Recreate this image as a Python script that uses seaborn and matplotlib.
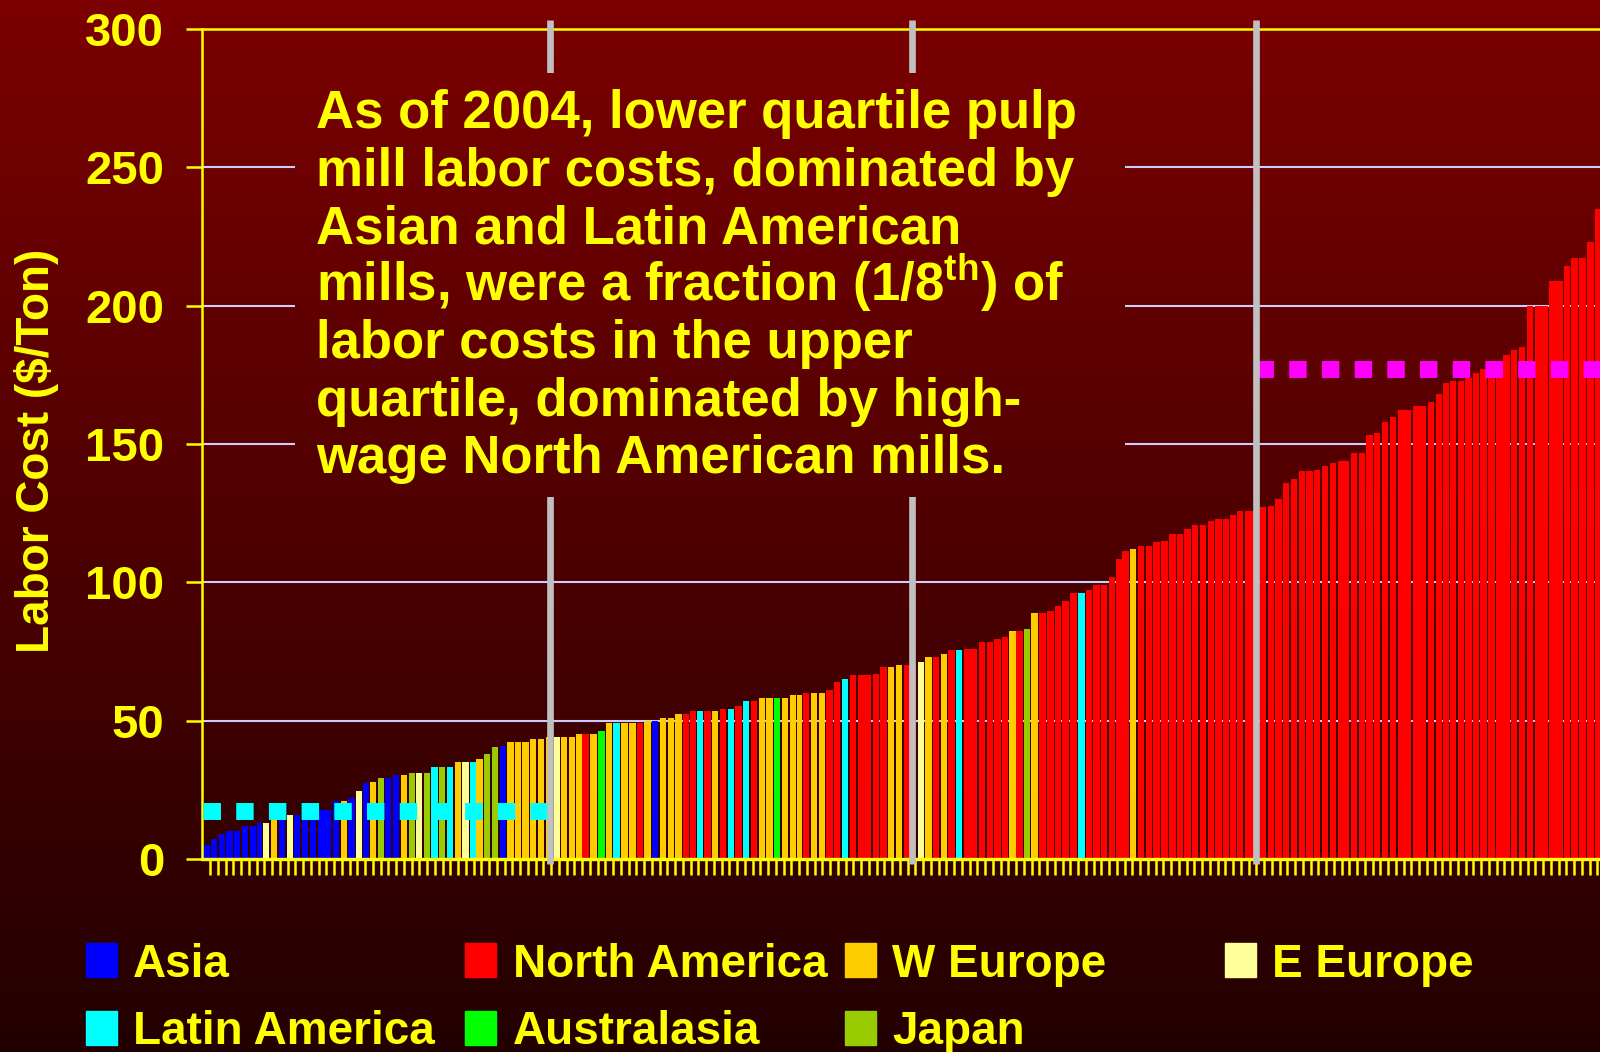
import numpy as np
import pandas as pd
import matplotlib
matplotlib.use("Agg")
import matplotlib.pyplot as plt
from matplotlib.patches import Rectangle
import seaborn as sns

# ---- data -------------------------------------------------------------
region_order = ["Asia", "North America", "W Europe", "E Europe",
                "Latin America", "Australasia", "Japan"]
region_colors = ["#0000FF", "#FF0000", "#FFCC00", "#FFFF99",
                 "#00FFFF", "#00FF00", "#99CC00"]
region_codes = {"A": "Asia", "NA": "North America", "WE": "W Europe",
                "EE": "E Europe", "LA": "Latin America", "AU": "Australasia",
                "J": "Japan"}

# mills sorted by labor cost
mill_region = (
    ["A", "A", "A", "A", "A", "A", "A", "A", "EE", "WE"]
    + ["A", "EE", "A", "A", "A", "A", "A", "WE", "A", "EE"]
    + ["A", "WE", "J", "A", "A", "WE", "J", "EE", "J", "LA"]
    + ["J", "LA", "WE", "EE", "LA", "WE", "J", "J", "A", "WE"]
    + ["WE", "WE", "WE", "WE", "WE", "EE", "WE", "WE", "WE", "NA"]
    + ["WE", "AU", "WE", "LA", "WE", "WE", "NA", "WE", "A", "WE"]
    + ["WE", "WE", "NA", "NA", "LA", "NA", "WE", "NA", "LA", "NA"]
    + ["LA", "NA", "WE", "WE", "AU", "WE", "WE", "WE", "NA", "WE"]
    + ["WE", "NA", "NA", "LA", "NA", "NA", "NA", "NA", "WE", "WE"]
    + ["NA", "EE", "WE", "NA", "WE", "NA", "LA", "NA", "NA", "NA"]
    + ["NA", "NA", "WE", "NA", "J", "WE", "NA", "NA", "NA", "NA"]
    + ["NA", "LA", "NA", "NA", "NA", "NA", "NA", "NA", "WE", "NA"]
    + ["NA"] * 55
)

# labor cost, $/ton
mill_cost = [
    5.0, 7.2, 9.0, 10.1, 10.1, 11.9, 11.9, 13.0, 13.0, 16.0,
    16.0, 15.9, 15.9, 17.3, 17.5, 17.7, 20.9, 20.9, 22.0, 24.5,
    27.4, 27.8, 29.2, 29.2, 30.3, 30.3, 31.0, 31.0, 31.0, 33.2,
    33.2, 33.2, 35.0, 35.0, 35.0, 36.1, 37.9, 40.4, 40.8, 42.2,
    42.2, 42.2, 43.3, 43.3, 44.0, 44.0, 44.0, 44.0, 45.1, 45.1,
    45.1, 46.2, 49.1, 49.1, 49.1, 49.1, 49.1, 49.8, 49.8, 50.9,
    50.9, 52.3, 52.3, 53.4, 53.4, 53.4, 53.4, 54.1, 54.1, 55.2,
    57.0, 57.0, 58.1, 58.1, 58.1, 58.1, 59.2, 59.2, 59.9, 59.9,
    59.9, 61.0, 63.9, 65.0, 66.4, 66.4, 66.8, 69.3, 69.3, 70.0,
    70.0, 71.1, 72.9, 72.9, 74.0, 75.4, 75.4, 75.8, 78.3, 78.3,
    79.4, 80.1, 82.3, 82.3, 83.0, 88.8, 88.8, 89.8, 91.6, 93.1,
    96.0, 96.0, 97.1, 98.9, 98.9, 101.8, 108.6, 111.5, 111.9, 113.3,
    113.3, 114.4, 114.8, 117.3, 117.3, 119.1, 120.9, 120.9, 122.0, 123.0,
    123.0, 124.5, 125.9, 125.9, 127.4, 127.7, 130.3, 136.0, 137.5, 140.4,
    140.4, 140.7, 142.2, 143.3, 144.0, 146.9, 146.9, 153.4, 153.8, 157.9,
    159.6, 162.2, 163.7, 165.1, 168.0, 171.9, 172.7, 172.7, 173.8, 175.6,
    177.1, 177.5, 178.5, 182.1, 183.9, 185.0, 199.8, 199.8, 208.9, 208.9,
    214.2, 217.1, 217.1, 222.9, 234.9,
]

# relative mill capacity (bar widths)
mill_capacity = [
    7, 8, 8, 7, 8, 8, 8, 5, 8, 8,
    8, 7.3, 7.7, 8, 8, 15, 8, 7.3, 8, 7.4,
    6.3, 8, 7.7, 7.3, 8, 8, 7.3, 7.7, 8, 7,
    8, 8, 7.7, 8.3, 6, 7, 8, 8, 8, 7,
    8, 7, 8, 8, 8.3, 6.7, 8, 8, 6, 7,
    9, 7, 8, 7, 9, 7, 8, 7, 8, 8,
    8, 7, 8, 6, 8, 7, 8, 8, 8, 7,
    8, 8, 8, 7, 8, 8, 8, 5, 8, 8,
    8, 7, 8, 8, 8, 15, 8, 7, 8, 8,
    14, 8, 7, 8, 8, 7, 8, 15, 8, 8,
    7, 8, 7, 7, 8, 7, 9, 7, 8, 7,
    9, 7, 8, 7, 8, 8, 6, 7, 8, 8,
    8, 7, 9, 7, 8, 7, 8, 8, 8, 7,
    8, 6, 8, 15.3, 7.7, 8, 7, 8, 8, 8,
    7, 8, 8, 8, 13, 8, 8, 7, 8, 8,
    8, 15, 15, 8, 8, 6, 8, 8, 7, 8,
    7, 9, 7, 7, 8, 8, 8, 15, 7, 7,
    8, 7, 9, 7, 8,
]

quartile_bounds = [347.0, 708.7, 1053.0]   # cumulative capacity
lower_quartile_avg = 17.3
upper_quartile_avg = 177.1
y_ticks = [0, 50, 100, 150, 200, 250, 300]

note_lines = [
    "As of 2004, lower quartile pulp",
    "mill labor costs, dominated by",
    "Asian and Latin American",
    r"mills, were a fraction (1/8$^{\mathrm{th}}$) of",
    "labor costs in the upper",
    "quartile, dominated by high-",
    "wage North American mills.",
]

# ---- style ------------------------------------------------------------
sns.set_style("ticks")
plt.rcParams["font.family"] = ["Liberation Sans", "DejaVu Sans"]
plt.rcParams["font.weight"] = "bold"
plt.rcParams["mathtext.fontset"] = "custom"
plt.rcParams["mathtext.rm"] = "Liberation Sans:bold"
plt.rcParams["mathtext.bf"] = "Liberation Sans:bold"

YELLOW = "#FFFF00"
W, H = 1600, 1052
fig = plt.figure(figsize=(W / 100, H / 100), dpi=100)


def shade(y0, y1):
    rows = np.linspace(y0, y1, 500)
    img = np.zeros((rows.size, 1, 3))
    img[:, 0, 0] = (124 - 90 * rows / H) / 255
    return img


bg = fig.add_axes([0, 0, 1, 1], zorder=0)
bg.imshow(shade(0, H), aspect="auto", extent=[0, 1, 0, 1],
          interpolation="bilinear")
bg.axis("off")

x_left, y_top, y_base = 202.3, 29.0, 859.0
ax = fig.add_axes([x_left / W, (H - y_base) / H, (W - x_left) / W,
                   (y_base - y_top) / H], zorder=1)
ax.patch.set_alpha(0)

# ---- bars (variable width = capacity) --------------------------------
df = pd.DataFrame({
    "region": [region_codes[c] for c in mill_region],
    "cost": mill_cost,
    "capacity": mill_capacity,
})
edges = np.concatenate([[0.0], np.cumsum(df["capacity"].to_numpy())])
df["mid"] = (edges[:-1] + edges[1:]) / 2

sns.histplot(data=df, x="mid", weights="cost", hue="region",
             hue_order=region_order,
             palette=dict(zip(region_order, region_colors)),
             bins=[float(e) for e in edges], multiple="layer", shrink=0.86,
             alpha=1, linewidth=0, antialiased=False, legend=False, ax=ax)

# quartile average bands
ax.plot([0, quartile_bounds[0]], [lower_quartile_avg] * 2, color="#00FFFF",
        lw=12.2, linestyle=(0, (1.03, 0.9)), dash_capstyle="butt",
        zorder=4, clip_on=False)
ax.plot([quartile_bounds[2], edges[-1] + 10], [upper_quartile_avg] * 2,
        color="#FF00FF", lw=12.2, linestyle=(0, (1.03, 0.9)),
        dash_capstyle="butt", zorder=4, clip_on=False)

# quartile separators
ax.vlines(quartile_bounds, -1.8, 303.3, colors="#C0C0C0", lw=4.8,
          zorder=5, clip_on=False, capstyle="butt")

# ---- axes -------------------------------------------------------------
ax.set_xlim(-0.7, W - x_left - 0.7)
ax.set_ylim(0, 300)
ax.set_yticks(y_ticks)
ax.set_xticks(np.arange(7.0, W - x_left, 7.75))
ax.set_xticklabels([])
ax.tick_params(axis="x", length=11.5, width=1.8, color=YELLOW,
               direction="out", bottom=True)
ax.tick_params(axis="y", length=11.5, width=1.8, color=YELLOW,
               labelcolor=YELLOW, labelsize=34, pad=15.8, direction="out",
               left=True)
for lbl in ax.get_yticklabels():
    lbl.set_fontweight("bold")
ax.grid(axis="y", color="#CCCCFF", lw=1.5)
ax.grid(axis="x", visible=False)
ax.set_axisbelow(True)
for side in ("left", "top"):
    ax.spines[side].set_visible(True)
    ax.spines[side].set_color(YELLOW)
    ax.spines[side].set_linewidth(1.8)
ax.spines["bottom"].set_color(YELLOW)
ax.spines["bottom"].set_linewidth(2.4)
ax.spines["right"].set_visible(False)
ax.set_xlabel("")
ax.set_ylabel("Labor Cost ($/Ton)", color=YELLOW, fontsize=33,
              fontweight="bold", va="center")
ax.yaxis.set_label_coords((37 - x_left) / (W - x_left),
                          (y_base - 451) / (y_base - y_top))

# ---- text panel ---------------------------------------------------------
bx0, bx1, by0, by1 = 295, 1125, 73, 497
box = fig.add_axes([bx0 / W, 1 - by1 / H, (bx1 - bx0) / W, (by1 - by0) / H],
                   zorder=2)
box.imshow(shade(by0, by1), aspect="auto", extent=[0, 1, 0, 1],
           interpolation="bilinear")
box.axis("off")

for i, line in enumerate(note_lines):
    fig.text(316 / W, 1 - (128.3 + 57.5 * i) / H, line, color=YELLOW,
             fontsize=38, fontweight="bold", ha="left", va="baseline",
             zorder=5)

# ---- legend -----------------------------------------------------------
legend_rows = [region_order[:4], region_order[4:]]
for r, names in enumerate(legend_rows):
    base = 977 + 67.5 * r
    for c, name in enumerate(names):
        sx = 85.5 + 379.7 * c
        color = region_colors[region_order.index(name)]
        fig.add_artist(Rectangle((sx / W, 1 - base / H), 31 / W, 34 / H,
                                 transform=fig.transFigure, color=color,
                                 zorder=5))
        fig.text((sx + 47.5) / W, 1 - base / H, name, color=YELLOW,
                 fontsize=33, fontweight="bold", ha="left", va="baseline",
                 zorder=5)

fig.savefig("out.png", dpi=100)
